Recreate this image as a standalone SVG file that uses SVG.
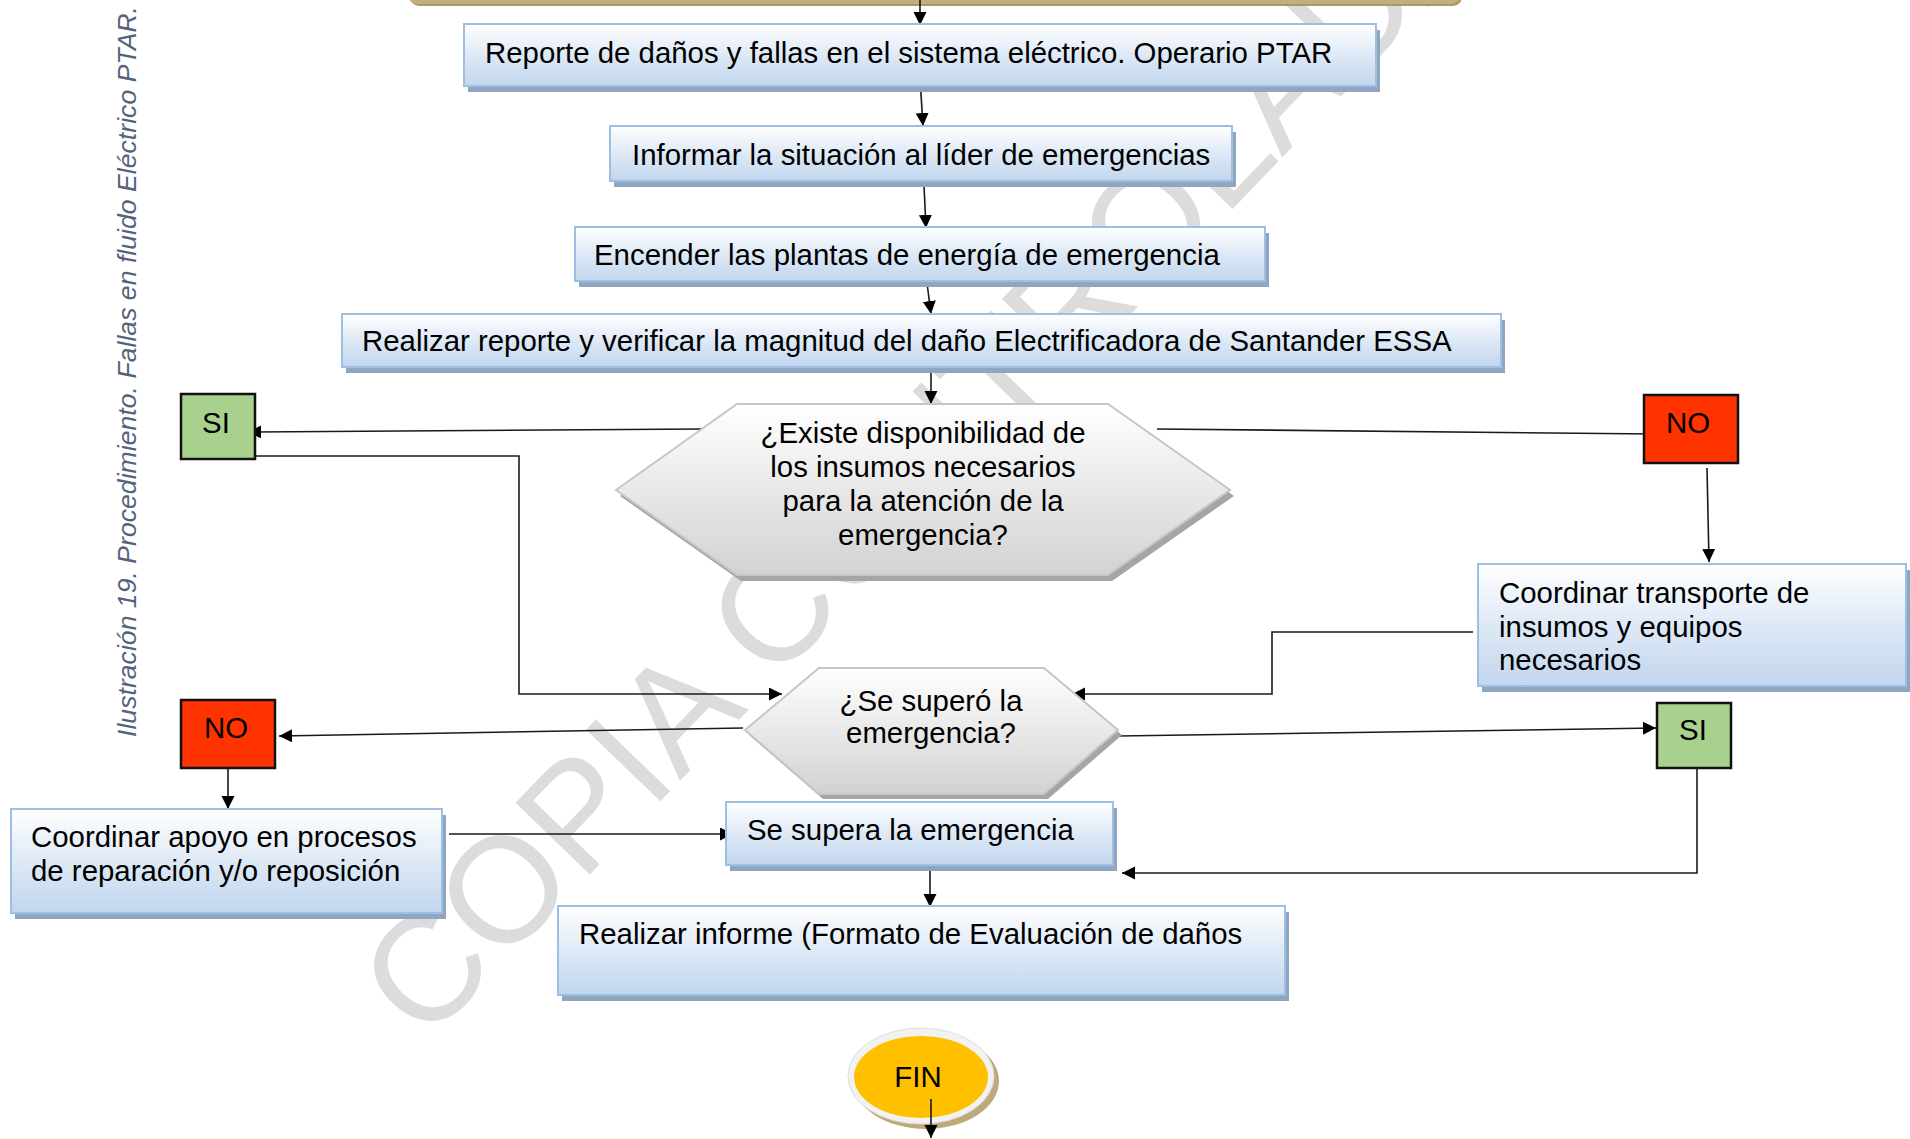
<svg xmlns="http://www.w3.org/2000/svg" width="1910" height="1139" viewBox="0 0 1910 1139">
<defs>
  <linearGradient id="gBlue" x1="0" y1="0" x2="0" y2="1">
    <stop offset="0" stop-color="#ffffff"/>
    <stop offset="0.55" stop-color="#dbe7f5"/>
    <stop offset="1" stop-color="#c2d6ee"/>
  </linearGradient>
  <linearGradient id="gGray" x1="0" y1="0" x2="0" y2="1">
    <stop offset="0" stop-color="#ffffff"/>
    <stop offset="1" stop-color="#d2d2d2"/>
  </linearGradient>
  <marker id="ah" markerUnits="userSpaceOnUse" markerWidth="14" markerHeight="14" refX="13" refY="6.5" orient="auto">
    <path d="M0,0 L13,6.5 L0,13 z" fill="#000"/>
  </marker>
</defs>
<style>
  .t{font-family:"Liberation Sans",Arial,sans-serif;font-size:29.4px;fill:#000}
  .m{text-anchor:middle}
  .box{fill:url(#gBlue);stroke:#9cbfe3;stroke-width:2}
  .sh{fill:#8fa6c1}
  .hex{fill:url(#gGray);stroke:#c6c6c6;stroke-width:2}
  .hsh{fill:#a5a5a5}
  .c{fill:none;stroke:#1a1a1a;stroke-width:1.6;marker-end:url(#ah)}
  .si{fill:#a9d18e;stroke:#111;stroke-width:2.5}
  .no{fill:#ff3300;stroke:#111;stroke-width:2.5}
  .wm{font-family:"Liberation Sans",Arial,sans-serif;font-size:150px;fill:#dcdcdc}
  .cap{font-family:"Liberation Sans",Arial,sans-serif;font-size:26.5px;font-style:italic;fill:#53637b}
</style>
<rect width="1910" height="1139" fill="#ffffff"/>
<text class="wm" transform="translate(425,1045) rotate(-46)">COPIA CONTROLADA</text>
<text class="cap" transform="translate(136,737) rotate(-90)" textLength="731" lengthAdjust="spacing">Ilustración 19. Procedimiento. Fallas en fluido Eléctrico PTAR.</text>

<g id="top-bar">
  <rect x="410" y="-20" width="1052" height="26" rx="9" fill="#ad9966"/>
  <rect x="408" y="-20" width="1052" height="24" rx="9" fill="#c3ae7e"/>
</g>

<g id="connectors">
  <line class="c" x1="920" y1="0" x2="920" y2="25"/>
  <line class="c" x1="920" y1="78" x2="923" y2="126"/>
  <line class="c" x1="924" y1="186" x2="926" y2="228"/>
  <line class="c" x1="927" y1="283" x2="931" y2="314"/>
  <line class="c" x1="931" y1="369" x2="931" y2="404"/>
  <line class="c" x1="702" y1="429" x2="248" y2="432"/>
  <polyline class="c" points="255,456 519,456 519,694 782,694"/>
  <line class="c" x1="1157" y1="429" x2="1656" y2="434"/>
  <line class="c" x1="1707" y1="468" x2="1709" y2="562"/>
  <polyline class="c" points="1473,632 1272,632 1272,694 1072,694"/>
  <line class="c" x1="743" y1="728" x2="279" y2="736"/>
  <line class="c" x1="1118" y1="736" x2="1656" y2="728"/>
  <line class="c" x1="228" y1="768" x2="228" y2="809"/>
  <line class="c" x1="449" y1="834" x2="733" y2="834"/>
  <polyline class="c" points="1697,768 1697,873 1122,873"/>
  <line class="c" x1="930" y1="866" x2="930" y2="907"/>
</g>

<g id="n-reporte">
  <rect class="sh" x="468" y="30" width="912" height="62"/>
  <rect class="box" x="464" y="24" width="912" height="62"/>
  <text class="t" x="485" y="63">Reporte de daños y fallas en el sistema eléctrico. Operario PTAR</text>
</g>
<g id="n-informar">
  <rect class="sh" x="614" y="132" width="622" height="55"/>
  <rect class="box" x="610" y="126" width="622" height="55"/>
  <text class="t" x="632" y="165">Informar la situación al líder de emergencias</text>
</g>
<g id="n-encender">
  <rect class="sh" x="579" y="233" width="690" height="54"/>
  <rect class="box" x="575" y="227" width="690" height="54"/>
  <text class="t" x="594" y="265">Encender las plantas de energía de emergencia</text>
</g>
<g id="n-realizar-reporte">
  <rect class="sh" x="346" y="320" width="1159" height="53"/>
  <rect class="box" x="342" y="314" width="1159" height="53"/>
  <text class="t" x="362" y="351">Realizar reporte y verificar la magnitud del daño Electrificadora de Santander ESSA</text>
</g>

<g id="n-existe">
  <polygon class="hsh" points="620,496 741,410 1112,410 1234,496 1112,581 741,581"/>
  <polygon class="hex" points="616,490 737,404 1108,404 1230,490 1108,575 737,575"/>
  <text class="t m" x="923" y="443">¿Existe disponibilidad de</text>
  <text class="t m" x="923" y="477">los insumos necesarios</text>
  <text class="t m" x="923" y="511">para la atención de la</text>
  <text class="t m" x="923" y="545">emergencia?</text>
</g>

<g id="n-si-1">
  <rect class="si" x="181" y="394" width="74" height="65"/>
  <text class="t m" x="216" y="433">SI</text>
</g>
<g id="n-no-1">
  <rect class="no" x="1644" y="395" width="94" height="68"/>
  <text class="t m" x="1688" y="433">NO</text>
</g>

<g id="n-transporte">
  <rect class="sh" x="1482" y="570" width="428" height="122"/>
  <rect class="box" x="1478" y="564" width="428" height="122"/>
  <text class="t" x="1499" y="603">Coordinar transporte de</text>
  <text class="t" x="1499" y="637">insumos y equipos</text>
  <text class="t" x="1499" y="670">necesarios</text>
</g>

<g id="n-supero">
  <polygon class="hsh" points="749,735 823,673 1048,673 1122,735 1048,799 823,799"/>
  <polygon class="hex" points="745,730 819,668 1044,668 1118,730 1044,794 819,794"/>
  <text class="t m" x="931" y="711">¿Se superó la</text>
  <text class="t m" x="931" y="743">emergencia?</text>
</g>

<g id="n-no-2">
  <rect class="no" x="181" y="700" width="94" height="68"/>
  <text class="t m" x="226" y="738">NO</text>
</g>
<g id="n-si-2">
  <rect class="si" x="1657" y="703" width="74" height="65"/>
  <text class="t m" x="1693" y="740">SI</text>
</g>

<g id="n-apoyo">
  <rect class="sh" x="15" y="815" width="431" height="104"/>
  <rect class="box" x="11" y="809" width="431" height="104"/>
  <text class="t" x="31" y="847">Coordinar apoyo en procesos</text>
  <text class="t" x="31" y="881">de reparación y/o reposición</text>
</g>
<g id="n-supera">
  <rect class="sh" x="730" y="808" width="387" height="63"/>
  <rect class="box" x="726" y="802" width="387" height="63"/>
  <text class="t" x="747" y="840">Se supera la emergencia</text>
</g>
<g id="n-informe">
  <rect class="sh" x="562" y="912" width="727" height="89"/>
  <rect class="box" x="558" y="906" width="727" height="89"/>
  <text class="t" x="579" y="944">Realizar informe (Formato de Evaluación de daños</text>
</g>

<g id="n-fin">
  <ellipse cx="926" cy="1081" rx="73" ry="48" fill="#bfa97a"/>
  <ellipse cx="921" cy="1076" rx="73" ry="48" fill="#f2f2f2" stroke="#dedede" stroke-width="1"/>
  <ellipse cx="921" cy="1077" rx="67" ry="41" fill="#ffc000"/>
  <text class="t m" x="918" y="1087">FIN</text>
</g>
<g id="connectors-end">
  <line class="c" x1="931" y1="1099" x2="931" y2="1138"/>
</g>
</svg>
